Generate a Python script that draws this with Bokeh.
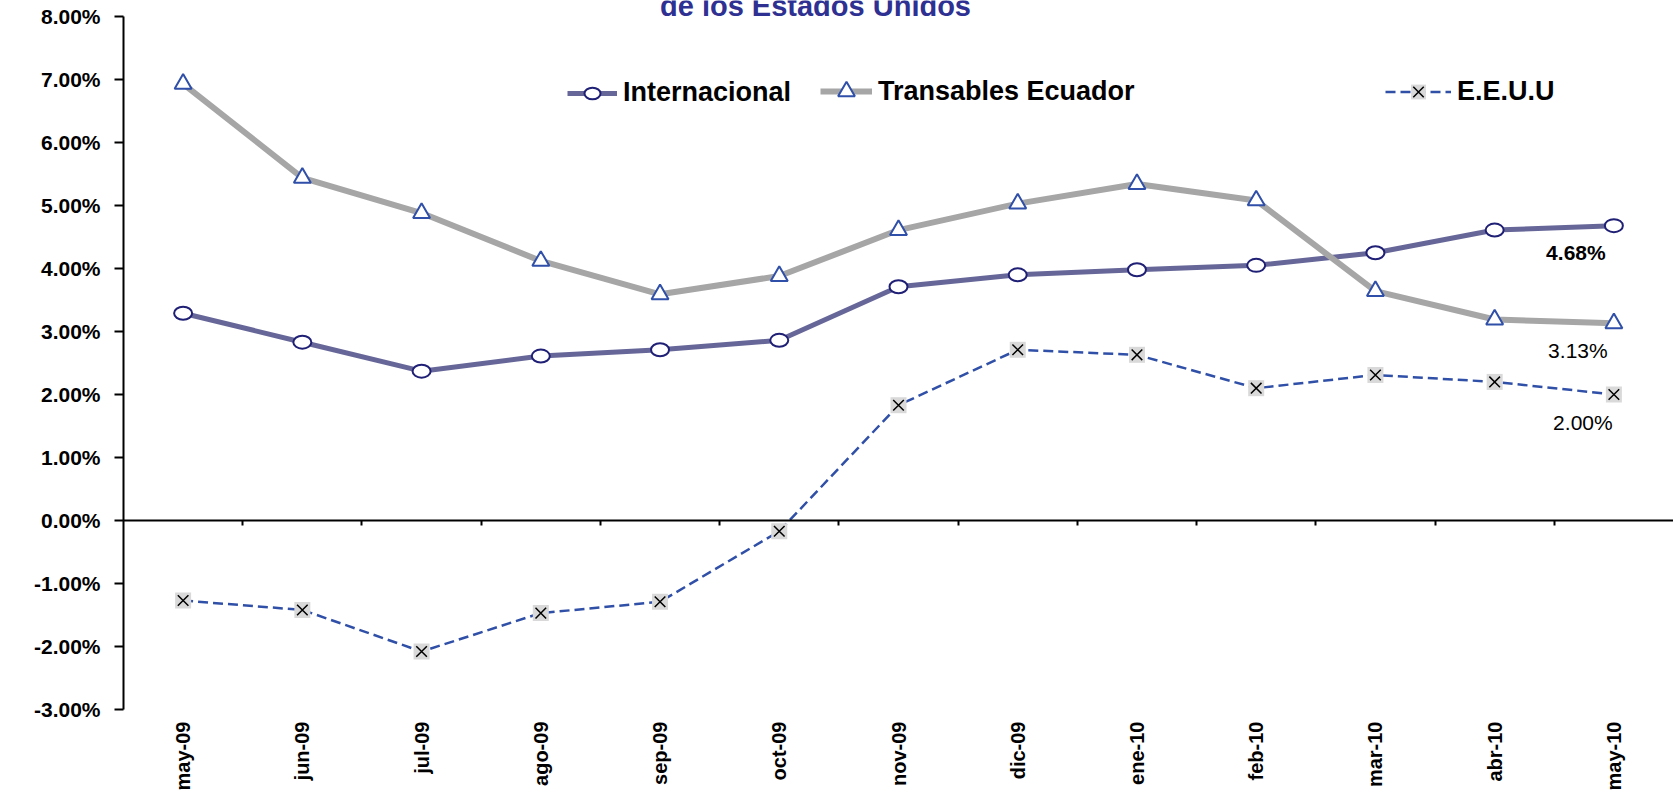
from math import pi
from bokeh.plotting import figure
from bokeh.models import (FactorRange, Range1d, CategoricalAxis, FixedTicker,
                          PrintfTickFormatter, Legend, LegendItem, Label)
from bokeh.core.properties import value
from bokeh.embed import file_html
from bokeh.resources import INLINE

# ---------------- data ----------------
months = ["may-09", "jun-09", "jul-09", "ago-09", "sep-09", "oct-09", "nov-09",
          "dic-09", "ene-10", "feb-10", "mar-10", "abr-10", "may-10"]
internacional = [3.29, 2.83, 2.37, 2.61, 2.71, 2.86, 3.71, 3.90, 3.98, 4.05, 4.25, 4.61, 4.68]
transables = [6.93, 5.44, 4.88, 4.12, 3.59, 3.88, 4.61, 5.03, 5.34, 5.08, 3.64, 3.19, 3.13]
eeuu = [-1.27, -1.42, -2.08, -1.47, -1.29, -0.17, 1.83, 2.71, 2.63, 2.10, 2.31, 2.20, 2.00]
y_ticks = [-3, -2, -1, 0, 1, 2, 3, 4, 5, 6, 7, 8]
series_names = ["Internacional", "Transables Ecuador", "E.E.U.U"]
title_text = "de los Estados Unidos"

FONT = "Liberation Sans"
W, H = 1673, 801
LEFT, BOTTOM = 123, 92
FRAME_H = H - BOTTOM          # frame reaches the top edge of the canvas
PX_PER_UNIT = 63.0
Y_TOP = y_ticks[-1] + 16 / PX_PER_UNIT   # 16 px of room above the 8% tick

p = figure(x_range=FactorRange(*months), y_range=Range1d(y_ticks[0], Y_TOP),
           width=W, height=H, output_backend="svg", toolbar_location=None,
           min_border_left=LEFT, min_border_right=0, min_border_top=0,
           min_border_bottom=BOTTOM)
p.outline_line_color = None
p.xgrid.visible = False
p.ygrid.visible = False
p.background_fill_color = "white"

# y axis
p.yaxis.bounds = (y_ticks[0], y_ticks[-1])
p.yaxis.ticker = FixedTicker(ticks=y_ticks)
p.yaxis.formatter = PrintfTickFormatter(format="%.2f%%")
p.yaxis.major_label_text_font = FONT
p.yaxis.major_label_text_font_style = "bold"
p.yaxis.major_label_text_font_size = "21px"
p.yaxis.major_label_text_color = "black"
p.yaxis.axis_line_width = 2
p.yaxis.axis_line_color = "black"
p.yaxis.major_tick_line_width = 2
p.yaxis.major_tick_out = 9
p.yaxis.major_tick_in = 0
p.yaxis.minor_tick_line_color = None
p.yaxis.major_label_standoff = 14

# x axis (labels only, at bottom)
p.xaxis.axis_line_color = None
p.xaxis.major_tick_line_color = None
p.xaxis.major_tick_out = 0
p.xaxis.major_tick_in = 0
p.xaxis.major_label_orientation = pi / 2
p.xaxis.major_label_text_font = FONT
p.xaxis.major_label_text_font_style = "bold"
p.xaxis.major_label_text_font_size = "20px"
p.xaxis.major_label_text_color = "black"
p.xaxis.major_label_standoff = 12

# category axis line crossing at zero, with ticks on the boundaries between months
boundaries = [f"{a}|{b}" for a, b in zip(months[:-1], months[1:])]
p.extra_x_ranges = {"bounds": FactorRange(*boundaries, range_padding=0.5,
                                          range_padding_units="absolute")}
zero_axis = CategoricalAxis(x_range_name="bounds", fixed_location=0,
                            major_label_text_font_size="1px", major_label_text_color=None,
                            major_label_standoff=0,
                            major_tick_out=5, major_tick_in=0, major_tick_line_width=2,
                            minor_tick_line_color=None, axis_line_width=2,
                            axis_line_color="black")
p.add_layout(zero_axis, "below")

# ---------------- series ----------------
l1 = p.line(months, internacional, line_color="#666699", line_width=5)
m1 = p.ellipse(months, internacional, width=18, height=13, width_units="screen",
               height_units="screen", fill_color="white", line_color="#1F1F75",
               line_width=2)

l2 = p.line(months, transables, line_color="#A6A6A6", line_width=6)
m2 = p.scatter(months, transables, marker="triangle", size=17, fill_color="white",
               line_color="#2F4FA8", line_width=2)

l3 = p.line(months, eeuu, line_color="#3050A8", line_width=2.5, line_dash="10 5")
s3 = p.scatter(months, eeuu, marker="square", size=16, fill_color="#D9D9D9",
               line_color=None)
x3 = p.scatter(months, eeuu, marker="x", size=15, line_color="black", line_width=1.5)

# data labels on the last point
for vals, style, dx, dy in [(internacional, "bold", -38, 27),
                            (transables, "normal", -36, 27),
                            (eeuu, "normal", -31, 28)]:
    p.text(x=[months[-1]], y=[vals[-1]], text=[f"{vals[-1]:.2f}%"],
           x_offset=dx, y_offset=dy, text_align="center", text_baseline="middle",
           text_font=value(FONT), text_font_style=style, text_font_size="21px",
           text_color="black")

# ---------------- legends ----------------
# (label, renderers, left x in frame px, glyph width, glyph height)
leg_specs = [(series_names[0], [l1, m1], 444, 50, 20),
             (series_names[1], [l2, m2], 697, 52, 42),
             (series_names[2], [l3, s3, x3], 1262, 66, 37)]
LEG_CENTER = FRAME_H - 91
for name, rends, lx, gw, gh in leg_specs:
    h = max(gh, 34)
    lg = Legend(items=[LegendItem(label=name, renderers=rends)],
                location=(lx, int(LEG_CENTER - h / 2)), orientation="horizontal",
                border_line_color=None, background_fill_alpha=0,
                padding=0, margin=0, spacing=0, glyph_width=gw, glyph_height=gh,
                label_standoff=6, label_text_font=FONT, label_text_font_style="bold",
                label_text_font_size="27px", label_text_color="black")
    p.add_layout(lg, "center")

# title (its upper part runs off the top edge, as in the reference)
p.add_layout(Label(x=815 - LEFT, y=FRAME_H - 21, x_units="screen", y_units="screen",
                   text=title_text, text_align="center", text_baseline="bottom",
                   text_font=FONT, text_font_style="bold", text_font_size="29px",
                   text_color="#2E3192"))

open("out.html", "w").write(file_html(p, INLINE))
